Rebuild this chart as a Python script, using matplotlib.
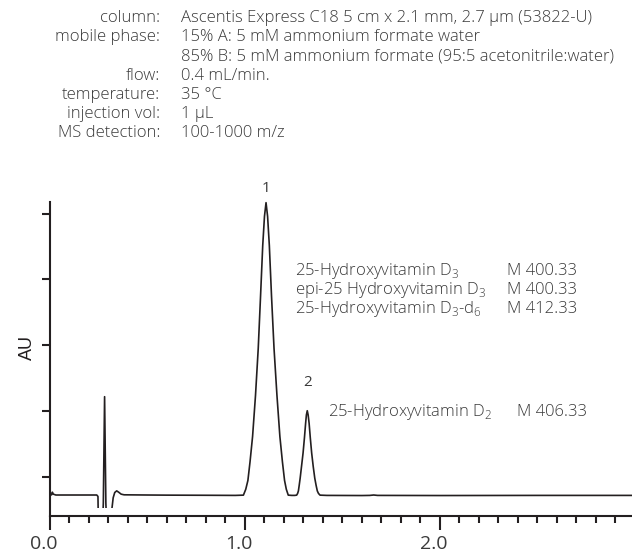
import matplotlib
matplotlib.use("Agg")
import matplotlib.pyplot as plt
from matplotlib.patches import Rectangle
from matplotlib.transforms import ScaledTranslation

plt.rcParams['font.family'] = ['Open Sans', 'DejaVu Sans']
plt.rcParams['mathtext.fontset'] = 'custom'
plt.rcParams['mathtext.rm'] = 'Open Sans'

# ---------------- data ----------------
time_min = [
    0.000, 0.008, 0.012, 0.017, 0.030, 0.120, 0.240, 0.246, 0.248,
    0.262, 0.270, 0.2735, 0.280, 0.2865, 0.290, 0.308, 0.319, 0.324,
    0.332, 0.342, 0.352, 0.365, 0.380, 0.500, 0.600, 0.800, 0.950,
    0.992, 1.004, 1.015, 1.026, 1.039, 1.054, 1.068, 1.080, 1.091, 1.100, 1.108,
    1.116, 1.125, 1.136, 1.149, 1.164, 1.179, 1.192, 1.203, 1.212, 1.222,
    1.240, 1.255,
    1.265, 1.270, 1.274, 1.278, 1.283, 1.290, 1.298, 1.305, 1.311, 1.315, 1.3195,
    1.324, 1.329, 1.335, 1.342, 1.350, 1.358, 1.365, 1.371, 1.377, 1.385,
    1.420, 1.600, 1.640, 1.660, 1.680, 2.000, 2.500, 2.985,
]
signal_au = [
    0.722, 0.725, 0.765, 0.735, 0.722, 0.722, 0.722, 0.700, 0.300,
    0.300, 0.300, 0.600, 2.216, 0.600, 0.300, 0.300, 0.550, 0.680,
    0.760, 0.785, 0.765, 0.735, 0.725, 0.722, 0.720, 0.718, 0.716,
    0.720, 0.809, 0.943, 1.228, 1.612, 2.236, 2.950, 3.753, 4.511, 4.957, 5.165,
    4.957, 4.511, 3.753, 2.950, 2.236, 1.612, 1.228, 0.943, 0.809, 0.720,
    0.716, 0.716,
    0.720, 0.746, 0.784, 0.866, 0.977, 1.156, 1.362, 1.592, 1.811, 1.939, 2.003,
    1.939, 1.811, 1.592, 1.362, 1.156, 0.977, 0.866, 0.784, 0.746, 0.720,
    0.716, 0.714, 0.716, 0.722, 0.716, 0.714, 0.716, 0.716,
]
peak_numbers = ["1", "2"]
peak_times = [1.108, 1.3195]
peak_heights = [5.165, 2.003]

x_major = [0.0, 1.0, 2.0]
x_major_labels = ["0.0", "1.0", "2.0"]
x_minor = [i / 10 for i in range(1, 30) if i % 10 != 0]
y_ticks = [1, 2, 3, 4, 5]

cond_labels = ["column:", "mobile phase:", "", "flow:", "temperature:",
               "injection vol:", "MS detection:"]
cond_values = ["Ascentis Express C18 5 cm x 2.1 mm, 2.7 µm (53822-U)",
               "15% A: 5 mM ammonium formate water",
               "85% B: 5 mM ammonium formate (95:5 acetonitrile:water)",
               "0.4 mL/min.",
               "35 °C",
               "1 µL",
               "100-1000 m/z"]

peak1_names = [r"25-Hydroxyvitamin D$_\mathregular{3}$",
               r"epi-25 Hydroxyvitamin D$_\mathregular{3}$",
               r"25-Hydroxyvitamin D$_\mathregular{3}$-d$_\mathregular{6}$"]
peak1_masses = ["M 400.33", "M 400.33", "M 412.33"]
peak2_name = r"25-Hydroxyvitamin D$_\mathregular{2}$"
peak2_mass = "M 406.33"

# ---------------- figure ----------------
W, H = 632, 556
fig = plt.figure(figsize=(W / 100, H / 100), dpi=100)
ax = fig.add_axes([50 / W, (H - 516) / H, (W - 50) / W, (516 - 202) / H])

ink = "#231f20"
txt = "#3a3a3a"
fs = 12

line, = ax.plot(time_min, signal_au, color=ink, lw=1.2, solid_joinstyle='round')
line.set_clip_path(Rectangle((0, 0.532), 3.5, 10, transform=ax.transData))

ax.set_xlim(0, 2.985)
ax.set_ylim(0.403, 5.175)

for s in ("top", "right"):
    ax.spines[s].set_visible(False)
for s in ("left", "bottom"):
    ax.spines[s].set_linewidth(1.5)
    ax.spines[s].set_color(ink)

ax.set_xticks(x_major)
ax.set_xticklabels(x_major_labels)
ax.set_xticks(x_minor, minor=True)
ax.set_yticks(y_ticks)
ax.set_yticklabels([])
ax.tick_params(axis='x', which='major', direction='out', length=10, width=1.5,
               color=ink, labelsize=14, labelcolor=txt, pad=4)
ax.tick_params(axis='x', which='minor', direction='out', length=5, width=1.5, color=ink)
ax.tick_params(axis='y', which='major', direction='out', length=6, width=1.5, color=ink)

shift = ScaledTranslation(-6 / 100, 0, fig.dpi_scale_trans)
for lab in ax.get_xticklabels():
    lab.set_transform(lab.get_transform() + shift)

fig.text(27 / W, 1 - 347 / H, "AU", rotation=90, ha='center', va='center',
         fontsize=13, color=ink, family=['Liberation Sans'])

# peak numbers
offsets = [10.5, 20]
for n, t, h, off in zip(peak_numbers, peak_times, peak_heights, offsets):
    ax.annotate(n, (t, h), xytext=(0, off), textcoords='offset points',
                ha='center', va='center', fontsize=11, color=txt,
                annotation_clip=False)

# conditions header
row_y = [18, 37, 56.5, 75.8, 94.8, 113.7, 133]
for lab, val, y in zip(cond_labels, cond_values, row_y):
    fig.text(160 / W, 1 - y / H, lab, ha='right', va='center', fontsize=fs,
             color=txt, fontweight='light')
    fig.text(181 / W, 1 - y / H, val, ha='left', va='center', fontsize=fs,
             color=txt, fontweight='light')

# compound annotations
for i, (nm, ms) in enumerate(zip(peak1_names, peak1_masses)):
    y = 271 + 19 * i
    fig.text(295 / W, 1 - y / H, nm, ha='left', va='center', fontsize=fs,
             color=txt, fontweight='light')
    fig.text(507 / W, 1 - y / H, ms, ha='left', va='center', fontsize=fs,
             color=txt, fontweight='light')
fig.text(328 / W, 1 - 412 / H, peak2_name, ha='left', va='center', fontsize=fs,
         color=txt, fontweight='light')
fig.text(517 / W, 1 - 412 / H, peak2_mass, ha='left', va='center', fontsize=fs,
         color=txt, fontweight='light')

fig.savefig("out.png", dpi=100, facecolor='white')
